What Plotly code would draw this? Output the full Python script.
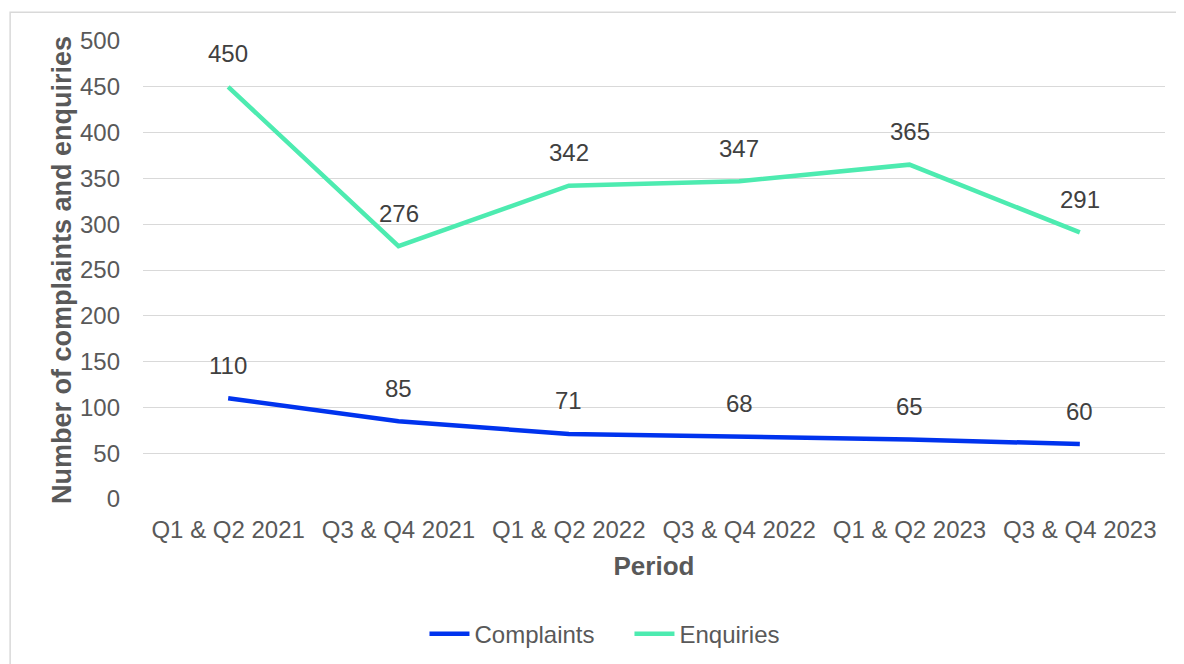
import plotly.graph_objects as go

periods = ["Q1 & Q2 2021", "Q3 & Q4 2021", "Q1 & Q2 2022",
           "Q3 & Q4 2022", "Q1 & Q2 2023", "Q3 & Q4 2023"]
complaints = [110, 85, 71, 68, 65, 60]
enquiries = [450, 276, 342, 347, 365, 291]

y_ticks = [0, 50, 100, 150, 200, 250, 300, 350, 400, 450, 500]

FONT = "Liberation Sans, Arial, sans-serif"
GREY = "#595959"

fig = go.Figure()

fig.add_trace(go.Scatter(
    x=periods, y=complaints, mode="lines", name="Complaints",
    line=dict(color="#0033ee", width=4.5),
))
fig.add_trace(go.Scatter(
    x=periods, y=enquiries, mode="lines", name="Enquiries",
    line=dict(color="#4debb0", width=4.5),
))

# data labels sit a little above each point, as in the original
annotations = []
for series in (complaints, enquiries):
    for p, v in zip(periods, series):
        annotations.append(dict(
            x=p, y=v, text=str(v), showarrow=False, yshift=33,
            font=dict(family=FONT, size=24, color="#404040"),
        ))

# page body has an 8px margin, so the figure is offset by 8px
fig.update_layout(
    width=1176, height=656,
    margin=dict(l=135, r=19, t=33, b=165, autoexpand=False),
    paper_bgcolor="white", plot_bgcolor="white",
    font=dict(family=FONT, color=GREY),
    showlegend=True,
    legend=dict(
        orientation="h", x=0.476, xanchor="center", y=-0.295, yanchor="middle",
        font=dict(family=FONT, size=24, color=GREY),
        itemwidth=40, tracegroupgap=0,
        entrywidth=150, entrywidthmode="pixels",
    ),
    annotations=annotations,
    shapes=[dict(
        type="rect", xref="paper", yref="paper",
        x0=-0.130, x1=1.05, y0=-0.5, y1=1.063,
        line=dict(color="#d9d9d9", width=1.5), fillcolor="rgba(0,0,0,0)",
        layer="below",
    )],
)

fig.update_xaxes(
    type="category", range=[-0.5, 5.5],
    showgrid=False, showline=False, ticks="",
    tickfont=dict(family=FONT, size=24, color=GREY),
    ticklabelstandoff=14,
    title=dict(text="<b>Period</b>", font=dict(family=FONT, size=26, color=GREY), standoff=14),
)
fig.update_yaxes(
    range=[0, 500], tickvals=y_ticks,
    showgrid=True, gridcolor="#d9d9d9", gridwidth=1.3,
    zeroline=False, showline=False, ticks="",
    tickfont=dict(family=FONT, size=24, color=GREY),
    ticklabelstandoff=22,
    title=dict(text="<b>Number of complaints and enquiries</b>",
               font=dict(family=FONT, size=27, color=GREY), standoff=0),
)

fig.write_html("out.html")
